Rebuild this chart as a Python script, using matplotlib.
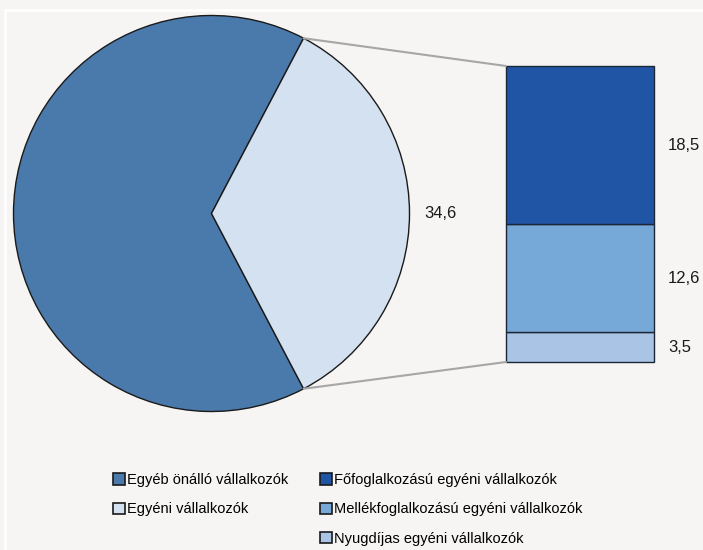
import numpy as np
import matplotlib.pyplot as plt
from matplotlib.patches import ConnectionPatch, Rectangle

# data
pie_labels = ["Egyéb önálló vállalkozók", "Egyéni vállalkozók"]
pie_values = [65.4, 34.6]
bar_labels = ["Nyugdíjas egyéni vállalkozók", "Mellékfoglalkozású egyéni vállalkozók",
              "Főfoglalkozású egyéni vállalkozók"]
bar_values = [3.5, 12.6, 18.5]
bar_text = ["3,5", "12,6", "18,5"]
pie_text = "34,6"

pie_colors = ["#4a7aab", "#d4e1f0"]
bar_colors = ["#a9c4e4", "#76a8d8", "#2055a5"]
bg = "#f6f5f3"

plt.rcParams["font.family"] = "Liberation Sans"
fs = 12      # value labels
lfs = 10.5   # legend

W, H = 703, 550
fig = plt.figure(figsize=(W / 100, H / 100), dpi=100, facecolor=bg)
fig.patches.append(Rectangle((5 / W, -0.1), 1.2, 1 - 10 / H + 0.1, transform=fig.transFigure,
                             fill=False, edgecolor="white", lw=2))

# pie
cx, cy, r = 211.5, 213.5, 198
ax1 = fig.add_axes([(cx - r) / W, (H - cy - r) / H, 2 * r / W, 2 * r / H])
ax1.set_facecolor("none")
half = pie_values[1] / sum(pie_values) * 180
wedges, _ = ax1.pie(pie_values, colors=pie_colors, startangle=half, counterclock=True,
                    wedgeprops=dict(edgecolor="#1a1a1a", linewidth=1), radius=1)
ax1.set_xlim(-1, 1)
ax1.set_ylim(-1, 1)
ax1.axis("off")
ax1.text(1.075, 0, pie_text, ha="left", va="center", fontsize=fs, color="#1a1a1a")

# bar
bx0, bx1, by0, by1 = 506, 654, 66, 362
ax2 = fig.add_axes([bx0 / W, (H - by1) / H, (bx1 - bx0) / W, (by1 - by0) / H])
ax2.set_facecolor("none")
bottom = 0
bars = []
for v, c, lab, t in zip(bar_values, bar_colors, bar_labels, bar_text):
    b = ax2.bar(0, v, width=1, bottom=bottom, color=c, edgecolor="#1c2636", linewidth=1,
                label=lab, clip_on=False)
    bars.append(b[0])
    ax2.annotate(t, (0.5, bottom + v / 2), xytext=(10, 0), textcoords="offset points",
                 ha="left", va="center", fontsize=fs, color="#1a1a1a")
    bottom += v
ax2.set_xlim(-0.5, 0.5)
ax2.set_ylim(0, sum(bar_values))
ax2.axis("off")

# connector lines
th = np.deg2rad(half)
for sgn, yb in [(1, sum(bar_values)), (-1, 0)]:
    con = ConnectionPatch(xyA=(np.cos(th), sgn * np.sin(th)), coordsA=ax1.transData,
                          xyB=(-0.5, yb), coordsB=ax2.transData,
                          color="#a6a6a6", lw=1.5)
    fig.add_artist(con)

# legends
leg_kw = dict(frameon=False, fontsize=lfs, handlelength=0.8, handleheight=0.8,
              handletextpad=0.15, labelspacing=1.05, borderpad=0, borderaxespad=0)
leg1 = fig.legend(wedges, pie_labels, loc="upper left",
                  bbox_to_anchor=(113 / W, 1 - 473 / H), **leg_kw)
leg2 = fig.legend(bars[::-1], bar_labels[::-1], loc="upper left",
                  bbox_to_anchor=(320 / W, 1 - 473 / H), **leg_kw)
for leg in (leg1, leg2):
    for h in leg.legend_handles:
        h.set_edgecolor("#1a1a1a")
        h.set_linewidth(1.2)

fig.savefig("out.png", dpi=100, facecolor=bg)
